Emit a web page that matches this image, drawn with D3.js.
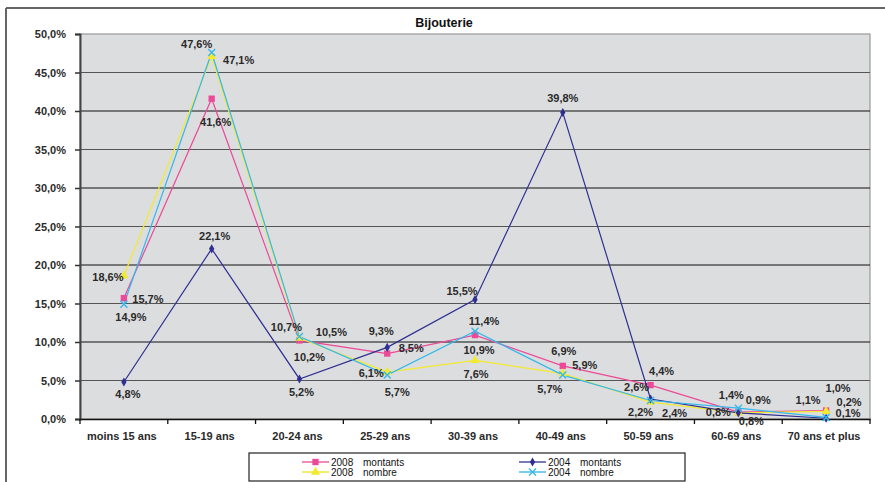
<!DOCTYPE html>
<html><head><meta charset="utf-8">
<script src="https://cdn.jsdelivr.net/npm/d3@7"></script>
<style>
html,body{margin:0;padding:0;background:#fff;}
svg{display:block;font-family:"Liberation Sans",Arial,Helvetica,sans-serif;}
</style></head>
<body><svg id="c" width="885" height="482"></svg>
<script>
const title = "Bijouterie";
const categories = ["moins 15 ans","15-19 ans","20-24 ans","25-29 ans","30-39 ans","40-49 ans","50-59 ans","60-69 ans","70 ans et plus"];
const yTicks = [0,5,10,15,20,25,30,35,40,45,50];
const seriesNames = ["2008  montants","2008  nombre","2004  montants","2004  nombre"];
const montants2008 = [15.7,41.6,10.2,8.5,10.9,6.9,4.4,0.9,1.1];
const nombre2008   = [18.6,47.1,10.5,6.1,7.6,5.9,2.2,0.8,1.0];
const montants2004 = [4.8,22.1,5.2,9.3,15.5,39.8,2.6,0.8,0.1];
const nombre2004   = [14.9,47.6,10.7,5.7,11.4,5.7,2.4,1.4,0.2];

// label offsets (dx, dy) relative to each point — placement only
const offM08 = [[24,1],[4,23],[10,17],[24,-6],[4,15],[1,-15],[11,-14],[20,-12],[-18,-10]];
const offN08 = [[-16,1],[27,4],[32,-6],[-16,1],[1,14],[22,-9],[-10,10],[-20,-1],[12,-23]];
const offM04 = [[4,12],[3,-13],[2,13],[-6,-16],[-13,-9],[0,-15],[-14,-12],[13,8],[22,-5]];
const offN04 = [[7,13],[-15,-8],[-13,-10],[10,17],[9,-10],[-13,14],[24,13],[-7,-13],[23,-15]];

const svg = d3.select("#c");
const L = 80, R = 870, T = 34, B = 419;
const x = d3.scaleBand().domain(categories).range([L, R]).padding(0);
const y = d3.scaleLinear().domain([0, 50]).range([B, T]);
const fmt = v => d3.format(".1f")(v).replace(".", ",") + "%";
const txtCol = "#2a2a2a";

// outer frame
svg.append("line").attr("x1",6).attr("x2",885).attr("y1",8).attr("y2",8).attr("stroke","#666").attr("stroke-width",2);
svg.append("line").attr("x1",6).attr("x2",6).attr("y1",8).attr("y2",482).attr("stroke","#666").attr("stroke-width",2);

// title
svg.append("text").attr("x",444).attr("y",26.5).attr("text-anchor","middle")
  .attr("font-size",12.5).attr("font-weight","bold").attr("fill","#111").text(title);

// plot bg
svg.append("rect").attr("x",L).attr("y",T).attr("width",R-L).attr("height",B-T)
  .attr("fill","#dcdddf").attr("stroke","#9a9a9a").attr("stroke-width",1.2);

// gridlines
svg.append("g").selectAll("line").data(yTicks.filter(d => d > 0 && d < 50)).join("line")
  .attr("x1",L).attr("x2",R).attr("y1",d=>y(d)).attr("y2",d=>y(d))
  .attr("stroke",d => (d % 10 === 0) ? "#111" : "#555").attr("stroke-width",1);

// y axis
const yAxis = d3.axisLeft(y).tickValues(yTicks).tickSize(5).tickPadding(9).tickFormat(fmt);
const gy = svg.append("g").attr("transform",`translate(${L},0)`).call(yAxis);
gy.select(".domain").attr("stroke","#444").attr("stroke-width",2);
gy.selectAll(".tick line").attr("stroke","#333").attr("stroke-width",1.5);
gy.selectAll(".tick text").attr("font-size",11).attr("font-weight","bold").attr("fill",txtCol)
  .attr("font-family","Liberation Sans, Arial, sans-serif");

// x axis
const gx = svg.append("g").attr("transform",`translate(0,${B})`)
  .call(d3.axisBottom(x).tickSize(0).tickPadding(13));
gx.select(".domain").attr("stroke","#111").attr("stroke-width",1.5);
gx.selectAll(".tick text").attr("font-size",11).attr("font-weight","bold").attr("fill",txtCol)
  .attr("dx",-2).attr("font-family","Liberation Sans, Arial, sans-serif");
svg.append("g").selectAll("line").data(d3.range(categories.length+1)).join("line")
  .attr("x1",i=>L + i*x.step()).attr("x2",i=>L + i*x.step())
  .attr("y1",B).attr("y2",B+5).attr("stroke","#111").attr("stroke-width",1.3);

// series
const series = [
  {name:seriesNames[0], values:montants2008, off:offM08, color:"#ec4a98", legendColor:"#f08ab8", sym:d3.symbolSquare, size:40},
  {name:seriesNames[1], values:nombre2008,   off:offN08, color:"#f3ea2e", legendColor:"#f4ee6a", sym:d3.symbolTriangle, size:36},
  {name:seriesNames[2], values:montants2004, off:offM04, color:"#2f2f92", legendColor:"#7a7ab8", sym:d3.symbolDiamond, size:24},
  {name:seriesNames[3], values:nombre2004,   off:offN04, color:"#35b8ea", legendColor:"#7acdf0", sym:"x", size:0}
];
const line = d3.line().x((d,i)=>x(categories[i]) + x.bandwidth()/2).y(d=>y(d));

function drawMarker(g, s, cx, cy) {
  if (s.sym === "x") {
    const r = 3.5;
    g.append("path").attr("d",`M${cx-r},${cy-r}L${cx+r},${cy+r}M${cx-r},${cy+r}L${cx+r},${cy-r}`)
      .attr("stroke",s.color).attr("stroke-width",1.4).attr("fill","none");
  } else {
    g.append("path").attr("d",d3.symbol().type(s.sym).size(s.size)())
      .attr("transform",`translate(${cx},${cy})`).attr("fill",s.color);
  }
}

const gs = svg.append("g");
series.forEach(s => {
  gs.append("path").datum(s.values).attr("d",line).attr("fill","none")
    .attr("stroke",s.color).attr("stroke-width",1.2);
});
series.forEach(s => {
  s.values.forEach((v,i) => drawMarker(gs, s, x(categories[i]) + x.bandwidth()/2, y(v)));
});

// data labels
const gl = svg.append("g");
series.forEach(s => {
  s.values.forEach((v,i) => {
    gl.append("text")
      .attr("x", x(categories[i]) + x.bandwidth()/2 + s.off[i][0])
      .attr("y", y(v) + s.off[i][1])
      .attr("dy","0.36em").attr("text-anchor","middle")
      .attr("font-size",11).attr("font-weight","bold").attr("fill",txtCol)
      .text(fmt(v));
  });
});

// legend
const lg = svg.append("g");
lg.append("rect").attr("x",249).attr("y",453).attr("width",436).attr("height",28)
  .attr("fill","#fff").attr("stroke","#222").attr("stroke-width",1.2);
const legPos = [[302,462],[302,472],[519,462],[519,472]];
series.forEach((s,k) => {
  const [lx, ly] = legPos[k];
  lg.append("line").attr("x1",lx).attr("x2",lx+27).attr("y1",ly).attr("y2",ly)
    .attr("stroke",s.legendColor).attr("stroke-width",2);
  drawMarker(lg, s, lx+13.5, ly);
  const parts = s.name.split(/\s+/);
  lg.append("text").attr("x",lx+29).attr("y",ly).attr("dy","0.36em")
    .attr("font-size",10).attr("fill","#111").text(parts[0]);
  lg.append("text").attr("x",lx+61).attr("y",ly).attr("dy","0.36em")
    .attr("font-size",10).attr("fill","#111").text(parts[1]);
});
</script></body></html>
